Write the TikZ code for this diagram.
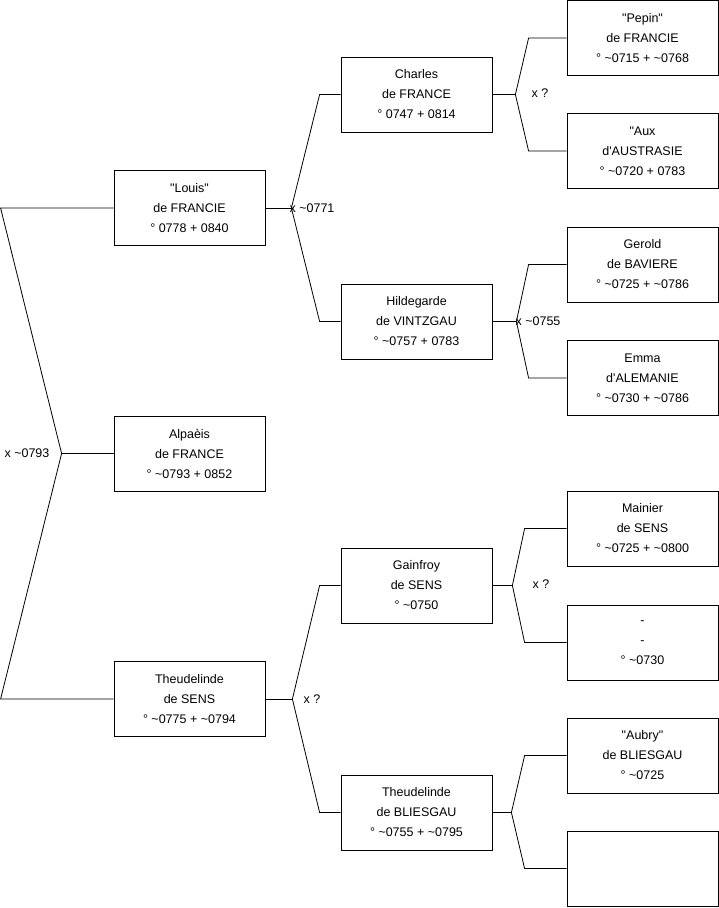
\documentclass[tikz,border=0pt]{standalone}
\usepackage{fontspec}
\setmainfont{Liberation Sans}[Ligatures=TeXOff]
\usetikzlibrary{calc}
\tikzset{
  person/.style={draw=black, line width=0.8pt, fill=white, minimum width=151pt, minimum height=75pt,
    inner sep=0pt, align=center, font=\fontsize{12.5}{20}\selectfont},
  link/.style={draw=black, line width=0.8pt},
  mlabel/.style={inner sep=0pt, font=\fontsize{12.5}{15}\selectfont}
}
\begin{document}
\begin{tikzpicture}[x=1pt,y=-1pt]
\useasboundingbox (0,0) rectangle (719,908);
% generation 1
\node[person] (louis) at (189.5,208) {"Louis"\\de FRANCIE\\° 0778 + 0840};
\node[person] (alpaeis) at (189.5,453.5) {Alpaèis\\de FRANCE\\° \textasciitilde0793 + 0852};
\node[person] (theudsens) at (189.5,699) {Theudelinde\\de SENS\\° \textasciitilde0775 + \textasciitilde0794};
% generation 2
\node[person] (charles) at (416.5,94.5) {Charles\\de FRANCE\\° 0747 + 0814};
\node[person] (hildegarde) at (416.5,321.5) {Hildegarde\\de VINTZGAU\\° \textasciitilde0757 + 0783};
\node[person] (gainfroy) at (416.5,585.5) {Gainfroy\\de SENS\\° \textasciitilde0750};
\node[person] (theudbl) at (416.5,812.5) {Theudelinde\\de BLIESGAU\\° \textasciitilde0755 + \textasciitilde0795};
% generation 3
\node[person] (pepin) at (642.5,38) {"Pepin"\\de FRANCIE\\° \textasciitilde0715 + \textasciitilde0768};
\node[person] (aux) at (642.5,151) {"Aux\\d'AUSTRASIE\\° \textasciitilde0720 + 0783};
\node[person] (gerold) at (642.5,264.5) {Gerold\\de BAVIERE\\° \textasciitilde0725 + \textasciitilde0786};
\node[person] (emma) at (642.5,378) {Emma\\d'ALEMANIE\\° \textasciitilde0730 + \textasciitilde0786};
\node[person] (mainier) at (642.5,528.5) {Mainier\\de SENS\\° \textasciitilde0725 + \textasciitilde0800};
\node[person] (dash) at (642.5,642.5) {-\\-\\° \textasciitilde0730};
\node[person] (aubry) at (642.5,755.5) {"Aubry"\\de BLIESGAU\\° \textasciitilde0725};
\node[person] (empty) at (642.5,868.5) {};

% root couple
\coordinate (j0) at ($(alpaeis.west)+(-52,0)$);
\draw[link] (louis.west) -- ++(-113,0) -- (j0) -- ($(theudsens.west)+(-113,0)$) -- (theudsens.west);
\draw[link] (alpaeis.west) -- (j0);
\node[mlabel, anchor=east] (l0) at ($(j0)+(-12,0)$) {x \textasciitilde0793};

% couple of Louis
\coordinate (j1) at ($(louis.east)+(26,0)$);
\draw[link] (louis.east) -- (j1);
\draw[link] (charles.west) -- ++(-21,0) -- (j1) -- ($(hildegarde.west)+(-21,0)$) -- (hildegarde.west);
\node[mlabel, anchor=west] (l1) at ($(j1)+(-2,0)$) {x \textasciitilde0771};

% couple of Theudelinde de SENS
\coordinate (j2) at ($(theudsens.east)+(27,0)$);
\draw[link] (theudsens.east) -- (j2);
\draw[link] (gainfroy.west) -- ++(-21,0) -- (j2) -- ($(theudbl.west)+(-21,0)$) -- (theudbl.west);
\node[mlabel, anchor=west] (l2) at ($(j2)+(11,0)$) {x ?};

% couple of Charles
\coordinate (j3) at ($(charles.east)+(23,0)$);
\draw[link] (charles.east) -- (j3);
\draw[link] (pepin.west) -- ++(-38,0) -- (j3) -- ($(aux.west)+(-38,0)$) -- (aux.west);
\node[mlabel, anchor=west] (l3) at ($(j3)+(16,-1)$) {x ?};

% couple of Hildegarde
\coordinate (j4) at ($(hildegarde.east)+(24,0)$);
\draw[link] (hildegarde.east) -- (j4);
\draw[link] (gerold.west) -- ++(-38,0) -- (j4) -- ($(emma.west)+(-38,0)$) -- (emma.west);
\node[mlabel, anchor=west] (l4) at ($(j4)+(-1,0)$) {x \textasciitilde0755};

% couple of Gainfroy
\coordinate (j5) at ($(gainfroy.east)+(20,0)$);
\draw[link] (gainfroy.east) -- (j5);
\draw[link] (mainier.west) -- ++(-42,0) -- (j5) -- ($(dash.west)+(-42,0)$) -- (dash.west);
\node[mlabel, anchor=west] (l5) at ($(j5)+(20,-1)$) {x ?};

% couple of Theudelinde de BLIESGAU
\coordinate (j6) at ($(theudbl.east)+(19,0)$);
\draw[link] (theudbl.east) -- (j6);
\draw[link] (aubry.west) -- ++(-42,0) -- (j6) -- ($(empty.west)+(-42,0)$) -- (empty.west);
\end{tikzpicture}
\end{document}
